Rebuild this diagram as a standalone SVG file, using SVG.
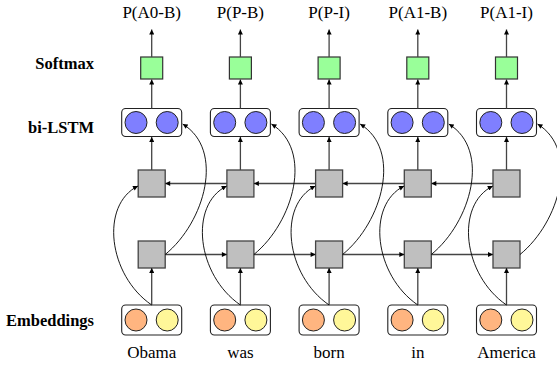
<svg xmlns="http://www.w3.org/2000/svg" width="557" height="369" viewBox="0 0 557 369">
<style>
text{font-family:"Liberation Serif","Times New Roman",serif;fill:#000}
.lab{font-size:17px;text-anchor:middle}
.side{font-size:16.5px;font-weight:bold;text-anchor:end}
.sm{fill:#99ff99;stroke:#333;stroke-width:1.2}
.gr{fill:#bfbfbf;stroke:#444;stroke-width:1.3}
.rb{fill:#fff;stroke:#222;stroke-width:1.1}
.bl{fill:#7f7fff;stroke:#222;stroke-width:1}
.or{fill:#ffb580;stroke:#222;stroke-width:1}
.ye{fill:#fff799;stroke:#222;stroke-width:1}
.st{stroke:#444;stroke-width:1.3;fill:none;marker-end:url(#ah)}
.cv{stroke:#000;stroke-width:0.9;fill:none;marker-end:url(#ah)}
</style>
<defs>
<marker id="ah" viewBox="0 0 10 10" refX="10" refY="5" markerWidth="6" markerHeight="5" markerUnits="userSpaceOnUse" orient="auto"><path d="M0,0 L10,5 L0,10 z" fill="#000"/></marker>
</defs>
<rect width="557" height="369" fill="#fff"/>
<g id="row-labels">
<text class="side" x="94" y="69">Softmax</text>
<text class="side" x="94" y="133">bi-LSTM</text>
<text class="side" x="94" y="326">Embeddings</text>
</g>
<g id="outputs">
<text class="lab" x="151.7" y="17.5">P(A0-B)</text>
<text class="lab" x="240.4" y="17.5">P(P-B)</text>
<text class="lab" x="329.1" y="17.5">P(P-I)</text>
<text class="lab" x="417.8" y="17.5">P(A1-B)</text>
<text class="lab" x="506.5" y="17.5">P(A1-I)</text>
</g>
<g id="words">
<text class="lab" x="151.7" y="358">Obama</text>
<text class="lab" x="240.4" y="358">was</text>
<text class="lab" x="329.1" y="358">born</text>
<text class="lab" x="417.8" y="358">in</text>
<text class="lab" x="506.5" y="358">America</text>
</g>
<g id="softmax">
<rect id="sm0" class="sm" x="140.7" y="57" width="22" height="22"/>
<rect id="sm1" class="sm" x="229.4" y="57" width="22" height="22"/>
<rect id="sm2" class="sm" x="318.1" y="57" width="22" height="22"/>
<rect id="sm3" class="sm" x="406.8" y="57" width="22" height="22"/>
<rect id="sm4" class="sm" x="495.5" y="57" width="22" height="22"/>
</g>
<g id="bilstm">
<g id="bl0"><rect class="rb" x="121.7" y="108.5" width="60" height="28" rx="4"/><circle class="bl" cx="136" cy="122.5" r="11"/><circle class="bl" cx="167.2" cy="122.5" r="11"/></g>
<g id="bl1"><rect class="rb" x="210.4" y="108.5" width="60" height="28" rx="4"/><circle class="bl" cx="224.7" cy="122.5" r="11"/><circle class="bl" cx="255.9" cy="122.5" r="11"/></g>
<g id="bl2"><rect class="rb" x="299.1" y="108.5" width="60" height="28" rx="4"/><circle class="bl" cx="313.4" cy="122.5" r="11"/><circle class="bl" cx="344.6" cy="122.5" r="11"/></g>
<g id="bl3"><rect class="rb" x="387.8" y="108.5" width="60" height="28" rx="4"/><circle class="bl" cx="402.1" cy="122.5" r="11"/><circle class="bl" cx="433.3" cy="122.5" r="11"/></g>
<g id="bl4"><rect class="rb" x="476.5" y="108.5" width="60" height="28" rx="4"/><circle class="bl" cx="490.8" cy="122.5" r="11"/><circle class="bl" cx="522" cy="122.5" r="11"/></g>
</g>
<g id="backward">
<rect id="bw0" class="gr" x="138.2" y="170" width="27" height="27"/>
<rect id="bw1" class="gr" x="226.9" y="170" width="27" height="27"/>
<rect id="bw2" class="gr" x="315.6" y="170" width="27" height="27"/>
<rect id="bw3" class="gr" x="404.3" y="170" width="27" height="27"/>
<rect id="bw4" class="gr" x="493" y="170" width="27" height="27"/>
</g>
<g id="forward">
<rect id="fw0" class="gr" x="138.2" y="241" width="27" height="27"/>
<rect id="fw1" class="gr" x="226.9" y="241" width="27" height="27"/>
<rect id="fw2" class="gr" x="315.6" y="241" width="27" height="27"/>
<rect id="fw3" class="gr" x="404.3" y="241" width="27" height="27"/>
<rect id="fw4" class="gr" x="493" y="241" width="27" height="27"/>
</g>
<g id="embeddings">
<g id="em0"><rect class="rb" x="121.7" y="305" width="60" height="30" rx="4"/><circle class="or" cx="136" cy="320" r="11"/><circle class="ye" cx="167.2" cy="320" r="11"/></g>
<g id="em1"><rect class="rb" x="210.4" y="305" width="60" height="30" rx="4"/><circle class="or" cx="224.7" cy="320" r="11"/><circle class="ye" cx="255.9" cy="320" r="11"/></g>
<g id="em2"><rect class="rb" x="299.1" y="305" width="60" height="30" rx="4"/><circle class="or" cx="313.4" cy="320" r="11"/><circle class="ye" cx="344.6" cy="320" r="11"/></g>
<g id="em3"><rect class="rb" x="387.8" y="305" width="60" height="30" rx="4"/><circle class="or" cx="402.1" cy="320" r="11"/><circle class="ye" cx="433.3" cy="320" r="11"/></g>
<g id="em4"><rect class="rb" x="476.5" y="305" width="60" height="30" rx="4"/><circle class="or" cx="490.8" cy="320" r="11"/><circle class="ye" cx="522" cy="320" r="11"/></g>
</g>
<g id="connectors">
<path class="st" d="M151.7,57V29.5"/><path class="st" d="M240.4,57V29.5"/><path class="st" d="M329.1,57V29.5"/><path class="st" d="M417.8,57V29.5"/><path class="st" d="M506.5,57V29.5"/>
<path class="st" d="M151.7,108.5V79.5"/><path class="st" d="M240.4,108.5V79.5"/><path class="st" d="M329.1,108.5V79.5"/><path class="st" d="M417.8,108.5V79.5"/><path class="st" d="M506.5,108.5V79.5"/>
<path class="st" d="M151.7,170V137"/><path class="st" d="M240.4,170V137"/><path class="st" d="M329.1,170V137"/><path class="st" d="M417.8,170V137"/><path class="st" d="M506.5,170V137"/>
<path class="st" d="M151.7,305V268"/><path class="st" d="M240.4,305V268"/><path class="st" d="M329.1,305V268"/><path class="st" d="M417.8,305V268"/><path class="st" d="M506.5,305V268"/>
<path class="st" d="M165.2,254.5H226.9"/><path class="st" d="M253.9,254.5H315.6"/><path class="st" d="M342.6,254.5H404.3"/><path class="st" d="M431.3,254.5H493"/>
<path class="st" d="M226.9,183.5H165.2"/><path class="st" d="M315.6,183.5H253.9"/><path class="st" d="M404.3,183.5H342.6"/><path class="st" d="M493,183.5H431.3"/>
<path class="cv" d="M151.7,305C108,275 100,205 138,186"/>
<path class="cv" d="M240.4,305C196.7,275 188.7,205 226.7,186"/>
<path class="cv" d="M329.1,305C285.4,275 277.4,205 315.4,186"/>
<path class="cv" d="M417.8,305C374.1,275 366.1,205 404.1,186"/>
<path class="cv" d="M506.5,305C462.8,275 454.8,205 492.8,186"/>
<path class="cv" d="M165.2,254.5C205,222 225,150 182.7,124"/>
<path class="cv" d="M253.9,254.5C293.7,222 313.7,150 271.4,124"/>
<path class="cv" d="M342.6,254.5C382.4,222 402.4,150 360.1,124"/>
<path class="cv" d="M431.3,254.5C471.1,222 491.1,150 448.8,124"/>
<path class="cv" d="M520,254.5C559.8,222 579.8,150 537.5,124"/>
</g>
</svg>
